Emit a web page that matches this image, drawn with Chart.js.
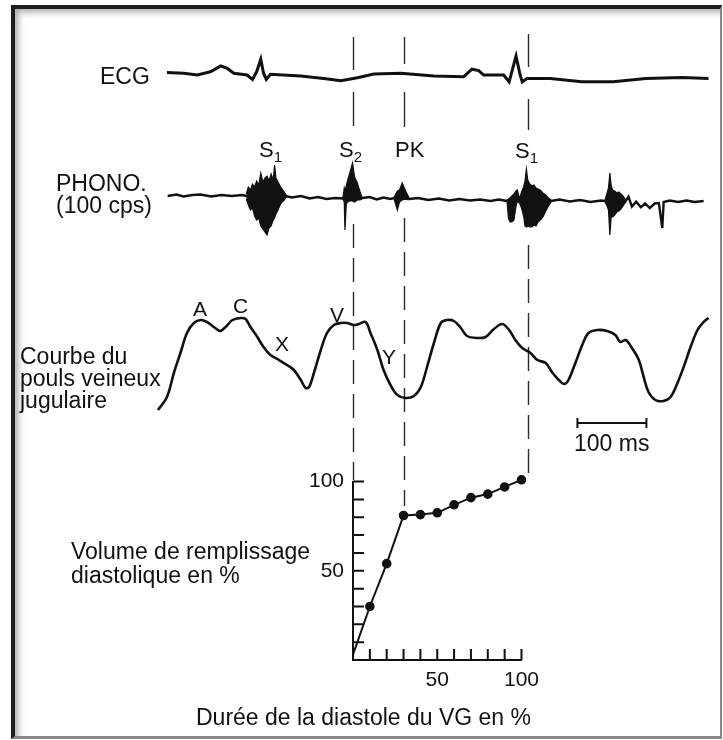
<!DOCTYPE html>
<html lang="fr">
<head>
<meta charset="utf-8">
<script src="https://cdn.jsdelivr.net/npm/chart.js@4.4.1/dist/chart.umd.min.js"></script>
<style>
  html, body { margin: 0; padding: 0; background: #fff; }
  body { width: 723px; height: 740px; position: relative; overflow: hidden;
         font-family: "Liberation Sans", Arial, sans-serif; color: #111; }
  .frame { position: absolute; left: 11px; top: 5px; width: 711px; height: 734px; box-sizing: border-box;
           border-left: 4px solid #1e1e1e; border-top: 4px solid #1e1e1e;
           border-right: 2px solid #888; border-bottom: 3px solid #888;
           box-shadow: inset 6px 6px 7px -3px rgba(0,0,0,0.35); pointer-events: none; z-index: 3; }
  .box { position: absolute; }
  .lbl { position: absolute; white-space: nowrap; font-size: 23px; line-height: 23px; z-index: 2; }
  .sm { font-size: 22px; line-height: 22px; }
  .let { font-size: 21px; line-height: 21px; }
  sub { font-size: 15px; vertical-align: -5px; line-height: 0; }
</style>
</head>
<body>
<div class="box" style="left:0;top:0;width:723px;height:740px;"><canvas id="traces"></canvas></div>
<div class="box" style="left:293px;top:460px;width:254px;height:240px;z-index:1;"><canvas id="filling"></canvas></div>

<div class="lbl" style="left:100px;top:65px;">ECG</div>
<div class="lbl" style="left:56px;top:172px;line-height:22px;">PHONO.<br>(100 cps)</div>
<div class="lbl sm" style="left:259px;top:139px;">S<sub>1</sub></div>
<div class="lbl sm" style="left:339px;top:139px;">S<sub>2</sub></div>
<div class="lbl sm" style="left:395px;top:139px;">PK</div>
<div class="lbl sm" style="left:515px;top:140px;">S<sub>1</sub></div>
<div class="lbl let" style="left:193px;top:298px;">A</div>
<div class="lbl let" style="left:233px;top:295px;">C</div>
<div class="lbl let" style="left:275px;top:333px;">X</div>
<div class="lbl let" style="left:330px;top:304px;">V</div>
<div class="lbl let" style="left:382px;top:346px;">Y</div>
<div class="lbl" style="left:20px;top:345px;line-height:22px;">Courbe du<br>pouls veineux<br>jugulaire</div>
<div class="lbl" style="left:574px;top:432px;">100 ms</div>
<div class="lbl" style="left:71px;top:539px;line-height:24px;">Volume de remplissage<br>diastolique en %</div>
<div class="lbl" style="left:196px;top:706px;">Durée de la diastole du VG en %</div>
<div class="frame"></div>

<script>
// temps en ms, origine au B2 (début de la diastole)
const eventNames = ["S2", "PK", "S1"];
const eventMs = [0, 74, 254];
const scaleBarMs = 100;

// ECG (mV)
const ecgMs = [-269, -245, -225, -206, -191, -182, -172, -153, -145, -139, -133, -129, -125, -119, -75, -42, -17, 7, 31, 70,
               118, 161, 173, 183, 190, 219, 227, 237, 243, 246, 253, 287, 332, 378, 425, 478, 516];
const ecgMv = [0.17, 0.14, 0.05, 0.21, 0.5, 0.39, 0.14, 0.05, -0.17, 0.21, 0.84, 0.14, -0.17, 0.09, 0, -0.12, -0.24, -0.09, 0.1, 0.14,
               0, -0.04, 0.34, 0.27, 0.05, 0.05, -0.29, 1.0, 0.05, -0.29, -0.12, -0.12, -0.29, -0.29, -0.12, -0.07, -0.12];

// phonocardiogramme : ligne de base
const phonoMs = [-268, -255, -245, -232, -220, -205, -190, -175, -160, -154, -97, -88, -75, -62, -50, -38, -25, -14, 14, 25,
                 35, 45, 55, 60, 82, 95, 110, 125, 140, 155, 170, 185, 200, 212, 224, 288, 300, 315, 330, 345,
                 360, 366, 396, 400, 405, 411, 418, 424, 431, 438, 444, 449, 451, 460, 472, 484, 496, 509];
const phonoAmp = [0, 0.15, -0.05, 0.1, 0.15, -0.05, 0.1, 0, 0.1, 0, 0, -0.15, 0, -0.25, -0.1, -0.3, -0.2, -0.25, -0.2, -0.1,
                  -0.35, -0.15, -0.3, -0.2, -0.3, -0.2, -0.4, -0.25, -0.45, -0.3, -0.45, -0.35, -0.5, -0.35, -0.5, -0.5, -0.35, -0.55, -0.4, -0.6,
                  -0.45, -0.5, -0.5, -0.07, -1.07, -0.57, -1.13, -0.73, -1.2, -0.75, -0.7, -3.2, -0.6, -0.45, -0.6, -0.45, -0.6, -0.5];

// phonocardiogramme : enveloppes des vibrations (haut / bas)
const s1aMs = [-154, -151, -148, -145, -142, -139, -136, -133, -130, -127, -124, -121, -118, -115, -113, -111, -108, -105, -102, -99, -96];
const s1aHi = [0.2, 0.9, 0.6, 1.2, 0.9, 1.5, 1.1, 2.3, 1.4, 1.8, 2.0, 1.5, 2.2, 1.6, 3.1, 1.8, 1.4, 1.0, 0.7, 0.4, 0.1];
const s1aLo = [-0.3, -0.9, -1.4, -1.2, -2.0, -2.4, -2.2, -3.0, -3.3, -3.6, -3.9, -3.2, -3.0, -2.4, -2.2, -1.8, -1.4, -0.9, -0.6, -0.4, -0.1];
const s2Ms = [-14, -12, -11, -9, -7, -4, 0, 3, 7, 11, 14];
const s2Hi = [-0.2, 0.8, 0.5, 1.0, 1.6, 2.3, 3.3, 1.9, 1.3, 0.4, -0.2];
const s2Lo = [-0.3, -0.6, -3.4, -0.8, -0.6, -0.5, -0.5, -0.6, -0.4, -0.4, -0.3];
const pkMs = [60, 65, 68, 72, 77, 82];
const pkHi = [-0.15, 0.5, 0.6, 1.3, 0.5, -0.2];
const pkLo = [-0.25, -1.4, -0.6, -0.4, -0.3, -0.35];
const s1bMs = [224, 226, 228, 231, 234, 237, 239, 242, 245, 248, 250, 252, 254, 257, 260, 263, 266, 269, 272, 276, 280, 284, 288];
const s1bHi = [-0.4, -0.3, -0.2, 0.0, 0.2, 0.5, 0.6, -0.3, 0.4, 0.9, 1.5, 2.7, 1.6, 1.2, 1.0, 1.1, 0.8, 0.7, 0.6, 0.3, 0.1, -0.2, -0.4];
const s1bLo = [-0.6, -2.2, -2.6, -2.6, -2.4, -1.0, -0.5, -0.7, -1.2, -2.0, -3.0, -3.1, -3.0, -3.1, -3.1, -2.9, -3.0, -2.6, -2.4, -2.1, -1.5, -1.0, -0.6];
const s3Ms = [366, 369, 371, 373, 375, 377, 380, 383, 386, 389, 392, 396];
const s3Hi = [-0.4, 0.3, 0.8, 2.3, 1.0, 0.6, 0.5, 0.3, 0.4, 0.2, 0.0, -0.4];
const s3Lo = [-0.6, -1.0, -1.4, -3.9, -2.0, -2.1, -1.9, -1.6, -1.5, -1.3, -1.0, -0.6];

// pouls veineux jugulaire
const jvpMs = [-282, -269, -259, -249, -240, -230, -220, -211, -201, -192, -184, -174, -162, -155, -148, -138, -129, -119, -109, -95,
               -85, -75, -68, -63, -56, -46, -37, -27, -17, -8, 2, 9, 19, 26, 36, 45, 55, 65, 77, 89,
               99, 108, 118, 128, 137, 147, 157, 166, 181, 193, 205, 217, 227, 236, 246, 258, 268, 280, 289, 299,
               307, 313, 323, 333, 342, 355, 369, 381, 388, 396, 405, 415, 422, 429, 439, 451, 461, 471, 480, 490,
               500, 509, 516];
const jvpVal = [1.0, 2.3, 4.7, 6.8, 8.7, 9.7, 10.0, 9.8, 9.3, 8.9, 9.3, 10.0, 10.2, 10.1, 9.3, 8.3, 7.3, 6.5, 6.1, 5.5,
                5.0, 4.0, 3.2, 3.3, 4.7, 7.0, 8.7, 9.5, 9.7, 9.7, 9.5, 9.6, 9.8, 8.7, 7.0, 5.0, 3.5, 2.5, 2.2, 2.4,
                3.3, 5.3, 7.7, 9.7, 10.0, 9.9, 9.2, 8.4, 8.2, 8.3, 9.1, 9.6, 9.0, 8.0, 7.2, 6.7, 6.0, 5.7, 4.8, 4.0,
                3.6, 4.0, 5.7, 7.5, 8.7, 9.0, 8.9, 8.5, 7.8, 8.0, 7.2, 6.0, 4.3, 2.8, 2.0, 1.9, 2.3, 3.7, 5.3, 7.3,
                9.0, 9.8, 10.2];

// remplissage diastolique du VG
const diastolePct = [0, 10, 20, 30, 40, 50, 60, 70, 80, 90, 100];
const fillingPct = [3, 30, 54, 81, 81.5, 82.5, 87, 91, 93, 97, 101];

const INK = "#111";
const pts = (xs, ys) => xs.map((x, i) => ({ x: x, y: ys[i] }));

function trace(data, axis, width, extra) {
    return Object.assign({
        data: data, yAxisID: axis, borderColor: INK, borderWidth: width,
        pointRadius: 0, fill: false, tension: 0
    }, extra || {});
}

function burst(ms, hi, lo) {
    return [
        trace(pts(ms, hi), "yPhono", 1.2),
        trace(pts(ms, lo), "yPhono", 1.2, { fill: "-1", backgroundColor: INK })
    ];
}

/* ============ repères verticaux + échelle de temps ============ */
const markerLines = {
    id: "markerLines",
    beforeDatasetsDraw(chart, args, opts) {
        const { ctx, scales: { x } } = chart;
        ctx.save();
        ctx.strokeStyle = "#2a2a2a";
        ctx.lineWidth = 1.4;
        eventMs.forEach(function (t, i) {
            const px = Math.round(x.getPixelForValue(t)) + 0.5;
            ctx.setLineDash([]);
            opts.solid[i].forEach(function (seg) {
                ctx.beginPath(); ctx.moveTo(px, seg[0]); ctx.lineTo(px, seg[1]); ctx.stroke();
            });
            ctx.setLineDash(opts.dash);
            ctx.beginPath(); ctx.moveTo(px, opts.dashed[i][0]); ctx.lineTo(px, opts.dashed[i][1]); ctx.stroke();
        });
        ctx.restore();
    },
    afterDatasetsDraw(chart, args, opts) {
        const { ctx, scales: { x } } = chart;
        const x0 = x.getPixelForValue(opts.barStart);
        const x1 = x.getPixelForValue(opts.barStart + scaleBarMs);
        const y = opts.barY;
        ctx.save();
        ctx.strokeStyle = INK;
        ctx.lineWidth = 2;
        ctx.beginPath();
        ctx.moveTo(x0, y); ctx.lineTo(x1, y);
        ctx.moveTo(x0, y - 5); ctx.lineTo(x0, y + 5);
        ctx.moveTo(x1, y - 5); ctx.lineTo(x1, y + 5);
        ctx.stroke();
        ctx.restore();
    }
};

new Chart(document.getElementById("traces").getContext("2d"), {
    type: "line",
    data: {
        datasets: [
            trace(pts(ecgMs, ecgMv), "yEcg", 3),
            trace(pts(phonoMs, phonoAmp), "yPhono", 2.4),
            ...burst(s1aMs, s1aHi, s1aLo),
            ...burst(s2Ms, s2Hi, s2Lo),
            ...burst(pkMs, pkHi, pkLo),
            ...burst(s1bMs, s1bHi, s1bLo),
            ...burst(s3Ms, s3Hi, s3Lo),
            trace(pts(jvpMs, jvpVal), "yJvp", 2.6, { tension: 0.35 })
        ]
    },
    options: {
        responsive: true,
        maintainAspectRatio: false,
        animation: false,
        events: [],
        layout: { padding: 0 },
        plugins: {
            legend: { display: false },
            tooltip: { enabled: false },
            markerLines: {
                solid: [[[37, 70], [92, 126]], [[37, 64], [92, 127]], [[34, 67], [99, 130]]],
                dashed: [[224, 480], [218, 506], [245, 478]],
                dash: [24, 10],
                barStart: 326,
                barY: 423
            }
        },
        scales: {
            x: { type: "linear", min: -511, max: 537, display: false },
            yEcg: { type: "linear", min: -33.2, max: 3.8, display: false },
            yPhono: { type: "linear", min: -54.4, max: 19.6, display: false },
            yJvp: { type: "linear", min: -32, max: 42, display: false }
        }
    },
    plugins: [markerLines]
});

/* ============ graduations tournées vers l'intérieur ============ */
const innerTicks = {
    id: "innerTicks",
    beforeDatasetsDraw(chart) {
        const { ctx, chartArea, scales } = chart;
        ctx.save();
        ctx.strokeStyle = INK;
        ctx.lineWidth = 2;
        ctx.beginPath();
        scales.x.ticks.forEach(function (t) {
            if (t.value === 0) return;
            const px = scales.x.getPixelForValue(t.value);
            ctx.moveTo(px, chartArea.bottom); ctx.lineTo(px, chartArea.bottom - 11);
        });
        scales.y.ticks.forEach(function (t) {
            if (t.value === 0) return;
            const py = scales.y.getPixelForValue(t.value);
            ctx.moveTo(chartArea.left, py); ctx.lineTo(chartArea.left + 11, py);
        });
        ctx.stroke();
        ctx.restore();
    }
};

const tickFont = { family: "'Liberation Sans', Arial, sans-serif", size: 21 };
const onlyMajor = function (v) { return (v === 50 || v === 100) ? String(v) : ""; };

new Chart(document.getElementById("filling").getContext("2d"), {
    type: "line",
    data: {
        datasets: [{
            data: pts(diastolePct, fillingPct),
            borderColor: INK,
            borderWidth: 2,
            pointRadius: [0, 3.8, 3.8, 3.8, 3.8, 3.8, 3.8, 3.8, 3.8, 3.8, 3.8],
            pointBackgroundColor: INK,
            pointBorderColor: INK,
            tension: 0,
            clip: false
        }]
    },
    options: {
        responsive: true,
        maintainAspectRatio: false,
        animation: false,
        events: [],
        layout: { padding: { top: 20, right: 20, left: 0, bottom: 0 } },
        plugins: { legend: { display: false }, tooltip: { enabled: false } },
        scales: {
            x: {
                type: "linear", min: 0, max: 100,
                grid: { display: false, drawTicks: false },
                border: { display: true, color: INK, width: 2 },
                ticks: { stepSize: 10, autoSkip: false, maxRotation: 0, padding: 8, color: INK, font: tickFont, callback: onlyMajor },
                afterFit: function (s) { s.height = 40; }
            },
            y: {
                type: "linear", min: 0, max: 100,
                grid: { display: false, drawTicks: false },
                border: { display: true, color: INK, width: 2 },
                ticks: { stepSize: 10, autoSkip: false, padding: 9, color: INK, font: tickFont, callback: onlyMajor },
                afterFit: function (s) { s.width = 60; }
            }
        }
    },
    plugins: [innerTicks]
});
</script>
</body>
</html>
